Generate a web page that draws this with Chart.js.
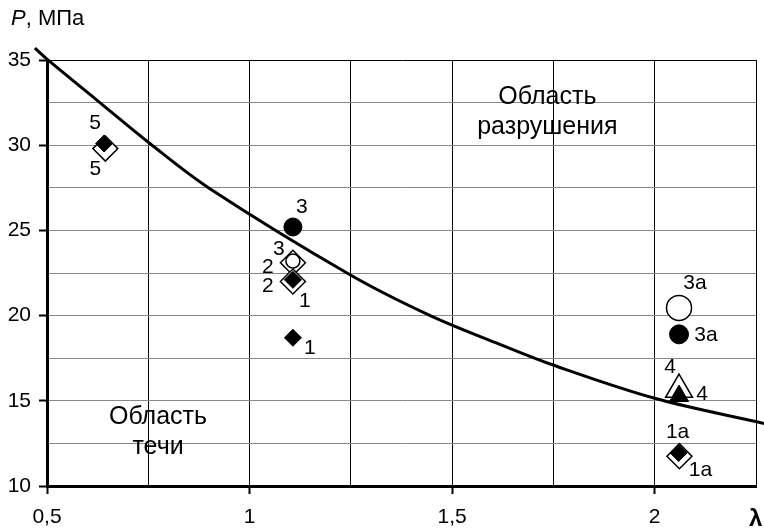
<!DOCTYPE html>
<html><head><meta charset="utf-8">
<script src="https://cdn.jsdelivr.net/npm/chart.js@4/dist/chart.umd.min.js"></script>
<style>html,body{margin:0;padding:0;background:#fff;} canvas{display:block;}</style>
</head><body>
<canvas id="c" width="764" height="529"></canvas>
<script>
// ---- data ----
const curveLambda = [0.47, 0.5, 0.623, 0.754, 0.902, 1.248, 1.446, 1.619, 1.749, 2.0, 2.27];
const curveP      = [35.7, 35.05, 32.65, 30.1, 27.45, 22.4, 20.0, 18.3, 17.1, 15.15, 13.67];

const filledDiamondLambda = [0.641, 1.107, 1.107, 2.059];
const filledDiamondP      = [30.1, 22.1, 18.7, 11.94];
const filledDiamondLabels = ['5', '2', '1', '1a'];

const openDiamondLambda = [0.644, 1.107, 1.107, 2.061];
const openDiamondP      = [29.8, 23.1, 22.0, 11.75];
const openDiamondLabels = ['5', '2', '1', '1a'];

const filledCircleLambda = [1.107, 2.06];
const filledCircleP      = [25.2, 18.9];
const filledCircleLabels = ['3', '3a'];

const openCircleLambda = [1.107, 2.06];
const openCircleP      = [23.2, 20.45];
const openCircleLabels = ['3', '3a'];

const openTriangleLambda = [2.06];
const openTriangleP      = [15.66];
const openTriangleLabels = ['4'];

const filledTriangleLambda = [2.06];
const filledTriangleP      = [15.28];
const filledTriangleLabels = ['4'];

const xTickValues = [0.5, 1, 1.5, 2];
const xTickLabels = ['0,5', '1', '1,5', '2'];
const yTickValues = [10, 15, 20, 25, 30, 35];
const yTickLabels = ['10', '15', '20', '25', '30', '35'];

const yAxisTitleItalic = 'P';
const yAxisTitleRest = ', МПа';
const xAxisTitle = 'λ';
const regionTop = ['Область', 'разрушения'];
const regionBottom = ['Область', 'течи'];

// ---- helpers ----
const FONT = '"Liberation Sans", Arial, sans-serif';
const zip = (xs, ys) => xs.map((x, i) => ({x: x, y: ys[i]}));
const findLabel = (vals, labs, v) => {
  const i = vals.findIndex(t => Math.abs(t - v) < 1e-6);
  return i < 0 ? '' : labs[i];
};

const annotPlugin = {
  id: 'annot',
  afterDatasetsDraw(chart, args, opts) {
    const ctx = chart.ctx, xs = chart.scales.x, ys = chart.scales.y;
    ctx.save();
    ctx.fillStyle = '#000';
    ctx.textAlign = 'center';
    ctx.textBaseline = 'middle';
    ctx.font = '21px ' + FONT;
    opts.groups.forEach(g => {
      g.lambda.forEach((v, i) => {
        const px = xs.getPixelForValue(v) + g.off[i][0];
        const py = ys.getPixelForValue(g.p[i]) + g.off[i][1];
        ctx.fillText(g.labels[i], px, py);
      });
    });
    // region captions
    ctx.font = '25px ' + FONT;
    opts.regions.forEach(r => {
      const px = xs.getPixelForValue(r.at[0]);
      const py = ys.getPixelForValue(r.at[1]);
      r.lines.forEach((t, k) => ctx.fillText(t, px, py + k * r.lineGap));
    });
    // axis titles
    ctx.textAlign = 'left';
    ctx.textBaseline = 'alphabetic';
    ctx.font = 'italic 22px ' + FONT;
    ctx.fillText(yAxisTitleItalic, 11, 25);
    const w = ctx.measureText(yAxisTitleItalic).width;
    ctx.font = '22px ' + FONT;
    ctx.fillText(yAxisTitleRest, 11 + w, 25);
    ctx.font = 'bold 24px ' + FONT;
    ctx.fillText(xAxisTitle, 749, 526);
    ctx.restore();
  }
};

const isMajorX = v => xTickValues.some(t => Math.abs(t - v) < 1e-6);
const isMajorY = v => yTickValues.some(t => Math.abs(t - v) < 1e-6);

new Chart(document.getElementById('c'), {
  type: 'scatter',
  data: {
    datasets: [
      { type: 'line', data: zip(curveLambda, curveP), borderColor: '#000', borderWidth: 3,
        pointRadius: 0, fill: false, tension: 0.35, clip: false, order: 10 },
      { data: zip(openDiamondLambda, openDiamondP), pointStyle: 'rectRot', pointRadius: 12.5,
        backgroundColor: '#fff', borderColor: '#000', borderWidth: 1.5, order: 6 },
      { data: zip(filledDiamondLambda, filledDiamondP), pointStyle: 'rectRot', pointRadius: 8.5,
        backgroundColor: '#000', borderColor: '#000', borderWidth: 1, order: 5 },
      { data: zip(openCircleLambda, openCircleP), pointStyle: 'circle', pointRadius: [7, 12.5],
        backgroundColor: '#fff', borderColor: '#000', borderWidth: 1.5, order: 4 },
      { data: zip(filledCircleLambda, filledCircleP), pointStyle: 'circle', pointRadius: [9, 9.5],
        backgroundColor: '#000', borderColor: '#000', borderWidth: 1, order: 3 },
      { data: zip(openTriangleLambda, openTriangleP), pointStyle: 'triangle', pointRadius: 15.5,
        backgroundColor: '#fff', borderColor: '#000', borderWidth: 1.5, order: 2 },
      { data: zip(filledTriangleLambda, filledTriangleP), pointStyle: 'triangle', pointRadius: 11,
        backgroundColor: '#000', borderColor: '#000', borderWidth: 1, order: 1 }
    ]
  },
  options: {
    responsive: false,
    devicePixelRatio: 1,
    animation: false,
    events: [],
    layout: { autoPadding: false, padding: { top: 60, right: 8, left: 0, bottom: 0 } },
    plugins: {
      legend: { display: false },
      tooltip: { enabled: false },
      annot: {
        groups: [
          { lambda: filledDiamondLambda, p: filledDiamondP, labels: filledDiamondLabels,
            off: [[-9, -20], [-25, 6], [17, 10], [-1, -21]] },
          { lambda: openDiamondLambda, p: openDiamondP, labels: openDiamondLabels,
            off: [[-10, 21], [-25, 4], [12, 20], [21, 14]] },
          { lambda: filledCircleLambda, p: filledCircleP, labels: filledCircleLabels,
            off: [[9, -20], [27, 1]] },
          { lambda: openCircleLambda, p: openCircleP, labels: openCircleLabels,
            off: [[-14, -12], [16, -25]] },
          { lambda: openTriangleLambda, p: openTriangleP, labels: openTriangleLabels,
            off: [[-9, -22]] },
          { lambda: filledTriangleLambda, p: filledTriangleP, labels: filledTriangleLabels,
            off: [[23, -2]] }
        ],
        regions: [
          { lines: regionTop, at: [1.735, 32.83], lineGap: 30 },
          { lines: regionBottom, at: [0.774, 14.05], lineGap: 30 }
        ]
      }
    },
    scales: {
      x: {
        type: 'linear', min: 0.5, max: 2.25,
        afterFit: s => { s.height = 43; s.paddingRight = 0; s.paddingLeft = 0; },
        border: { display: true, color: '#000', width: 3 },
        grid: { color: '#000', lineWidth: 1, tickLength: 8, tickWidth: 2,
                tickColor: c => isMajorX(c.tick.value) ? '#000' : 'rgba(0,0,0,0)' },
        ticks: { stepSize: 0.25, autoSkip: false, maxRotation: 0, padding: 11, color: '#000',
                 font: { family: FONT, size: 21 },
                 callback: v => findLabel(xTickValues, xTickLabels, v) }
      },
      y: {
        type: 'linear', min: 10, max: 35,
        afterFit: s => { s.width = 47; },
        border: { display: true, color: '#000', width: 3 },
        grid: { color: c => (c.tick && Math.abs(c.tick.value - 35) < 1e-6) ? '#000' : '#888',
                lineWidth: 1, tickLength: 8, tickWidth: 2,
                tickColor: c => isMajorY(c.tick.value) ? '#000' : 'rgba(0,0,0,0)' },
        ticks: { stepSize: 2.5, autoSkip: false, padding: 8, color: '#000',
                 font: { family: FONT, size: 21 },
                 callback: v => findLabel(yTickValues, yTickLabels, v) }
      }
    }
  },
  plugins: [annotPlugin]
});
</script>
</body></html>
